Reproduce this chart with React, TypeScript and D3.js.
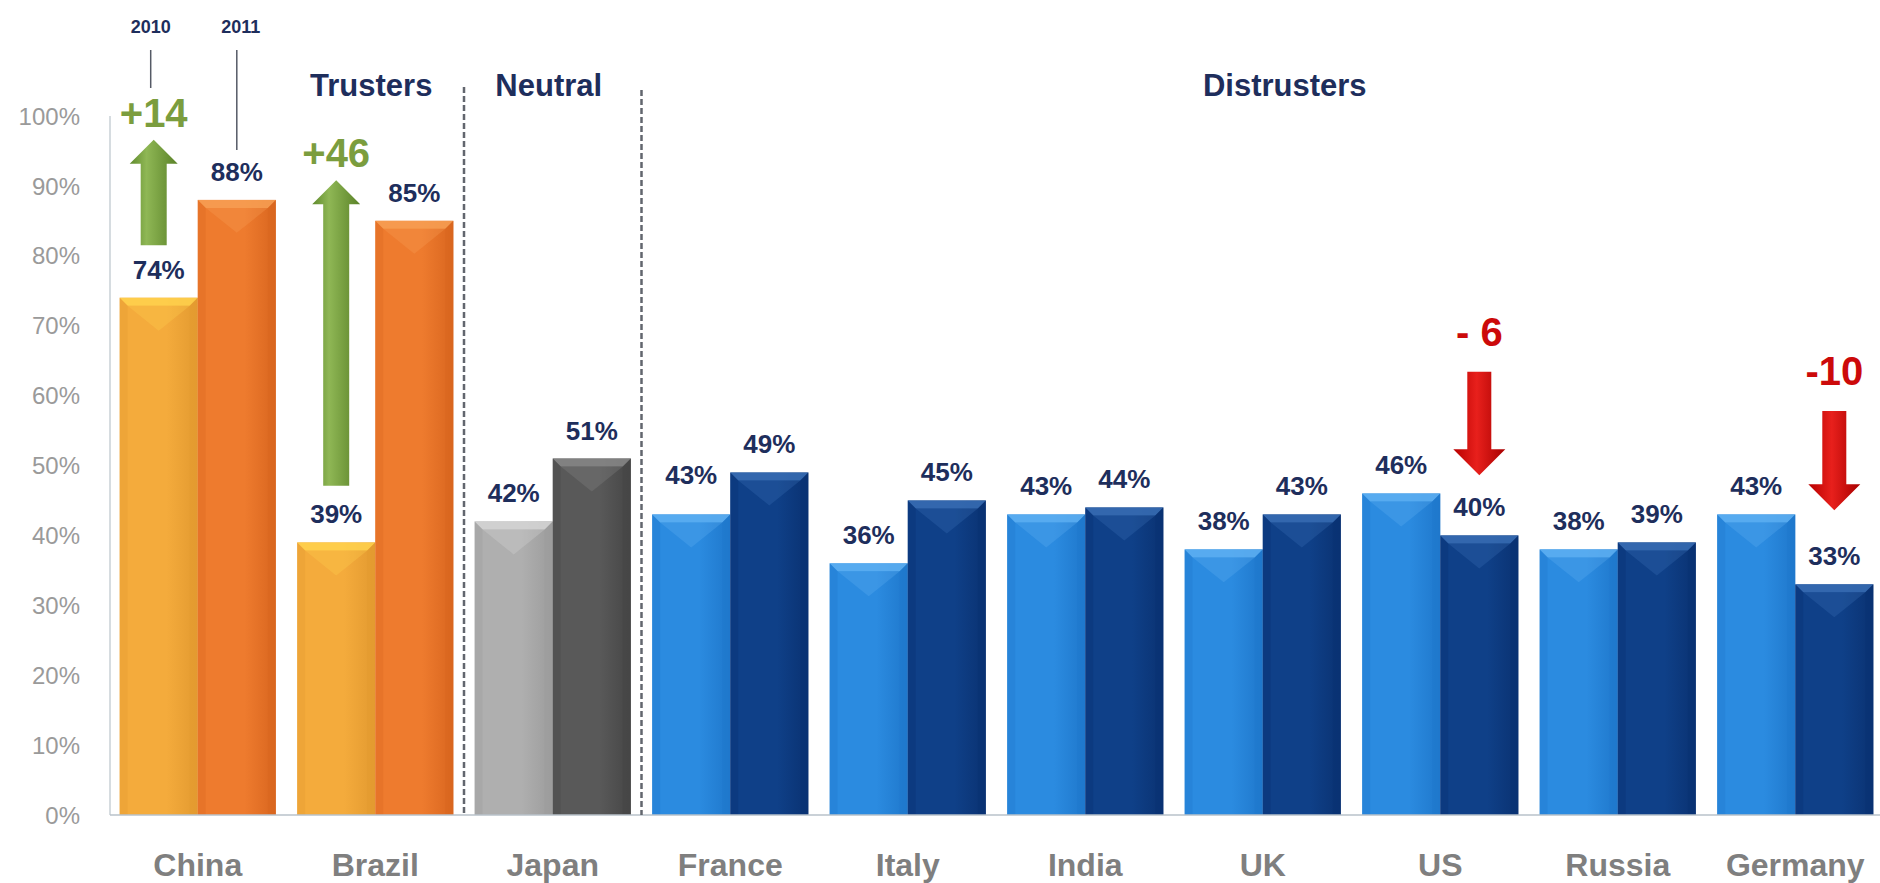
import React from "react";
import * as d3 from "d3";

const categories = ["China", "Brazil", "Japan", "France", "Italy", "India", "UK", "US", "Russia", "Germany"];
const segmentOf = ["trust", "trust", "neutral", "dist", "dist", "dist", "dist", "dist", "dist", "dist"];
const values2010 = [74, 39, 42, 43, 36, 43, 38, 46, 38, 43];
const values2011 = [88, 85, 51, 49, 45, 44, 43, 40, 39, 33];
const yTicks = [0, 10, 20, 30, 40, 50, 60, 70, 80, 90, 100];
const segmentLabels = [
  { key: "trust", label: "Trusters", anchor: "Brazil" },
  { key: "neutral", label: "Neutral", anchor: "Japan" },
  { key: "dist", label: "Distrusters", anchor: "UK" },
];
const changeArrows = [
  { country: "China", series: 0, from: 81.5, to: 96.6, label: "+14" },
  { country: "Brazil", series: 0, from: 47.1, to: 90.8, label: "+46" },
  { country: "US", series: 1, from: 63.4, to: 48.6, label: "- 6" },
  { country: "Germany", series: 1, from: 57.8, to: 43.6, label: "-10" },
];
const seriesNames = ["2010", "2011"];

const palette: Record<string, { base: string; light: string; dark: string }[]> = {
  trust: [
    { base: "#f4ab3c", light: "#ffd24e", dark: "#e39a30" },
    { base: "#ee7b2e", light: "#f7a055", dark: "#d9661f" },
  ],
  neutral: [
    { base: "#afafaf", light: "#d6d6d6", dark: "#9c9c9c" },
    { base: "#595959", light: "#888888", dark: "#464646" },
  ],
  dist: [
    { base: "#2b8be0", light: "#5fb0f2", dark: "#1f78cc" },
    { base: "#0f4088", light: "#3a6fb5", dark: "#0a3272" },
  ],
};

const W = 1880;
const H = 883;
const NAVY = "#1e2e5c";
const FONT = "'Liberation Sans', Arial, Helvetica, sans-serif";

function Bar({ x, w, y, h, col, id }: any) {
  const b = 8;
  const flap = Math.min(h - b, w * 0.32);
  return (
    <g>
      <rect x={x} y={y} width={w} height={h} fill={`url(#g-${id})`} />
      <polygon
        points={`${x},${y} ${x + w},${y} ${x + w - b},${y + b} ${x + b},${y + b}`}
        fill={col.light}
        opacity={0.85}
      />
      {flap > 0 && (
        <polygon
          points={`${x + b},${y + b} ${x + w - b},${y + b} ${x + w / 2},${y + b + flap}`}
          fill={col.light}
          opacity={0.3}
        />
      )}
      <polygon
        points={`${x},${y} ${x + b},${y + b} ${x + b},${y + h} ${x},${y + h}`}
        fill={col.dark}
        opacity={0.35}
      />
      <polygon
        points={`${x + w},${y} ${x + w - b},${y + b} ${x + w - b},${y + h} ${x + w},${y + h}`}
        fill={col.dark}
        opacity={0.55}
      />
    </g>
  );
}

export default function App() {
  const x = d3.scaleBand<string>().domain(categories).range([109, 1884]).paddingInner(0.12).paddingOuter(0.06);
  const xs = d3.scaleBand<number>().domain([0, 1]).range([0, x.bandwidth()]);
  const y = d3.scaleLinear().domain([0, 100]).range([815, 116]);
  const vals = [values2010, values2011];

  const dividers: number[] = [];
  for (let i = 1; i < categories.length; i++) {
    if (segmentOf[i] !== segmentOf[i - 1]) {
      const prevEnd = (x(categories[i - 1]) as number) + x.bandwidth();
      const start = x(categories[i]) as number;
      dividers.push((prevEnd + start) / 2);
    }
  }

  const barCenter = (c: string, s: number) => (x(c) as number) + (xs(s) as number) + xs.bandwidth() / 2;

  const gradIds: any[] = [];
  Object.keys(palette).forEach((k) => palette[k].forEach((c, s) => gradIds.push({ id: `${k}-${s}`, c })));

  return (
    <div style={{ position: "absolute", left: 0, top: 0 }}>
      <svg width={W} height={H} style={{ display: "block", background: "#fff" }} fontFamily={FONT}>
        <defs>
          {gradIds.map(({ id, c }) => (
            <linearGradient key={id} id={`g-${id}`} x1="0" x2="1" y1="0" y2="0">
              <stop offset="0" stopColor={c.base} />
              <stop offset="0.6" stopColor={c.base} />
              <stop offset="1" stopColor={c.dark} />
            </linearGradient>
          ))}
          <linearGradient id="arrow-green" x1="0" x2="1" y1="0" y2="0">
            <stop offset="0" stopColor="#5f8a2c" />
            <stop offset="0.35" stopColor="#8fb755" />
            <stop offset="1" stopColor="#5a8228" />
          </linearGradient>
          <linearGradient id="arrow-red" x1="0" x2="1" y1="0" y2="0">
            <stop offset="0" stopColor="#b80000" />
            <stop offset="0.45" stopColor="#e8201c" />
            <stop offset="1" stopColor="#a80000" />
          </linearGradient>
        </defs>

        {/* y axis */}
        <line x1={110} x2={110} y1={y(100)} y2={y(0)} stroke="#c9d0d6" strokeWidth={1.5} />
        {yTicks.map((t) => (
          <text key={t} x={80} y={y(t)} dy="0.36em" textAnchor="end" fontSize={24} fill="#9a9a9a">
            {t}%
          </text>
        ))}

        {/* bars */}
        {categories.map((c, i) =>
          [0, 1].map((s) => {
            const v = vals[s][i];
            const col = palette[segmentOf[i]][s];
            const bx = (x(c) as number) + (xs(s) as number);
            return (
              <Bar
                key={`${c}-${s}`}
                x={bx}
                w={xs.bandwidth()}
                y={y(v)}
                h={y(0) - y(v)}
                col={col}
                id={`${segmentOf[i]}-${s}`}
              />
            );
          })
        )}

        {/* baseline */}
        <line x1={110} x2={W} y1={y(0)} y2={y(0)} stroke="#b9c2ca" strokeWidth={1.5} />

        {/* dividers */}
        {dividers.map((d, i) => (
          <line
            key={i}
            x1={d}
            x2={d}
            y1={i === 0 ? 87 : 90}
            y2={y(0)}
            stroke="#62666e"
            strokeWidth={2.5}
            strokeDasharray="6 3"
          />
        ))}

        {/* value labels */}
        {categories.map((c, i) =>
          [0, 1].map((s) => (
            <text
              key={`l-${c}-${s}`}
              x={barCenter(c, s)}
              y={y(vals[s][i]) - (c === "France" && s === 0 ? 30 : 19)}
              textAnchor="middle"
              fontSize={26}
              fontWeight="bold"
              fill={NAVY}
            >
              {vals[s][i]}%
            </text>
          ))
        )}

        {/* category labels */}
        {categories.map((c) => (
          <text
            key={`c-${c}`}
            x={(x(c) as number) + x.bandwidth() / 2}
            y={876}
            textAnchor="middle"
            fontSize={32}
            fontWeight="bold"
            fill="#7f7f7f"
          >
            {c}
          </text>
        ))}

        {/* segment labels */}
        {segmentLabels.map((sl) => (
          <text
            key={sl.key}
            x={(x(sl.anchor) as number) + x.bandwidth() / 2 + (sl.key === "dist" ? 22 : -4)}
            y={96}
            textAnchor="middle"
            fontSize={31}
            fontWeight="bold"
            fill={NAVY}
          >
            {sl.label}
          </text>
        ))}

        {/* series callouts */}
        {seriesNames.map((n, s) => {
          const cx = barCenter(categories[0], s) + (s === 0 ? -8 : 0);
          return (
            <g key={n}>
              <text x={cx + (s === 1 ? 4 : 0)} y={33} textAnchor="middle" fontSize={18} fontWeight="bold" fill={NAVY}>
                {n}
              </text>
              <line x1={cx} x2={cx} y1={50} y2={s === 0 ? 88 : 150} stroke="#555a66" strokeWidth={1.5} />
            </g>
          );
        })}

        {/* change arrows */}
        {changeArrows.map((a) => {
          const cx = barCenter(a.country, a.series) + (a.country === "China" ? -5 : 0);
          const up = a.to > a.from;
          const y0 = y(a.from);
          const y1 = y(a.to);
          const shaft = up ? 13 : 12;
          const head = up ? 24 : 26;
          const hh = up ? 24 : 26;
          const dir = up ? 1 : -1;
          const hb = y1 + dir * hh;
          const pts = [
            [cx - shaft, y0],
            [cx - shaft, hb],
            [cx - head, hb],
            [cx, y1],
            [cx + head, hb],
            [cx + shaft, hb],
            [cx + shaft, y0],
          ]
            .map((p) => p.join(","))
            .join(" ");
          const labelY = up ? y1 - 13 : y0 - 26;
          return (
            <g key={a.country}>
              <polygon points={pts} fill={up ? "url(#arrow-green)" : "url(#arrow-red)"} />
              <text
                x={cx}
                y={labelY}
                textAnchor="middle"
                fontSize={40}
                fontWeight="bold"
                fill={up ? "#7b9d3e" : "#cc0a0a"}
              >
                {a.label}
              </text>
            </g>
          );
        })}
      </svg>
    </div>
  );
}
